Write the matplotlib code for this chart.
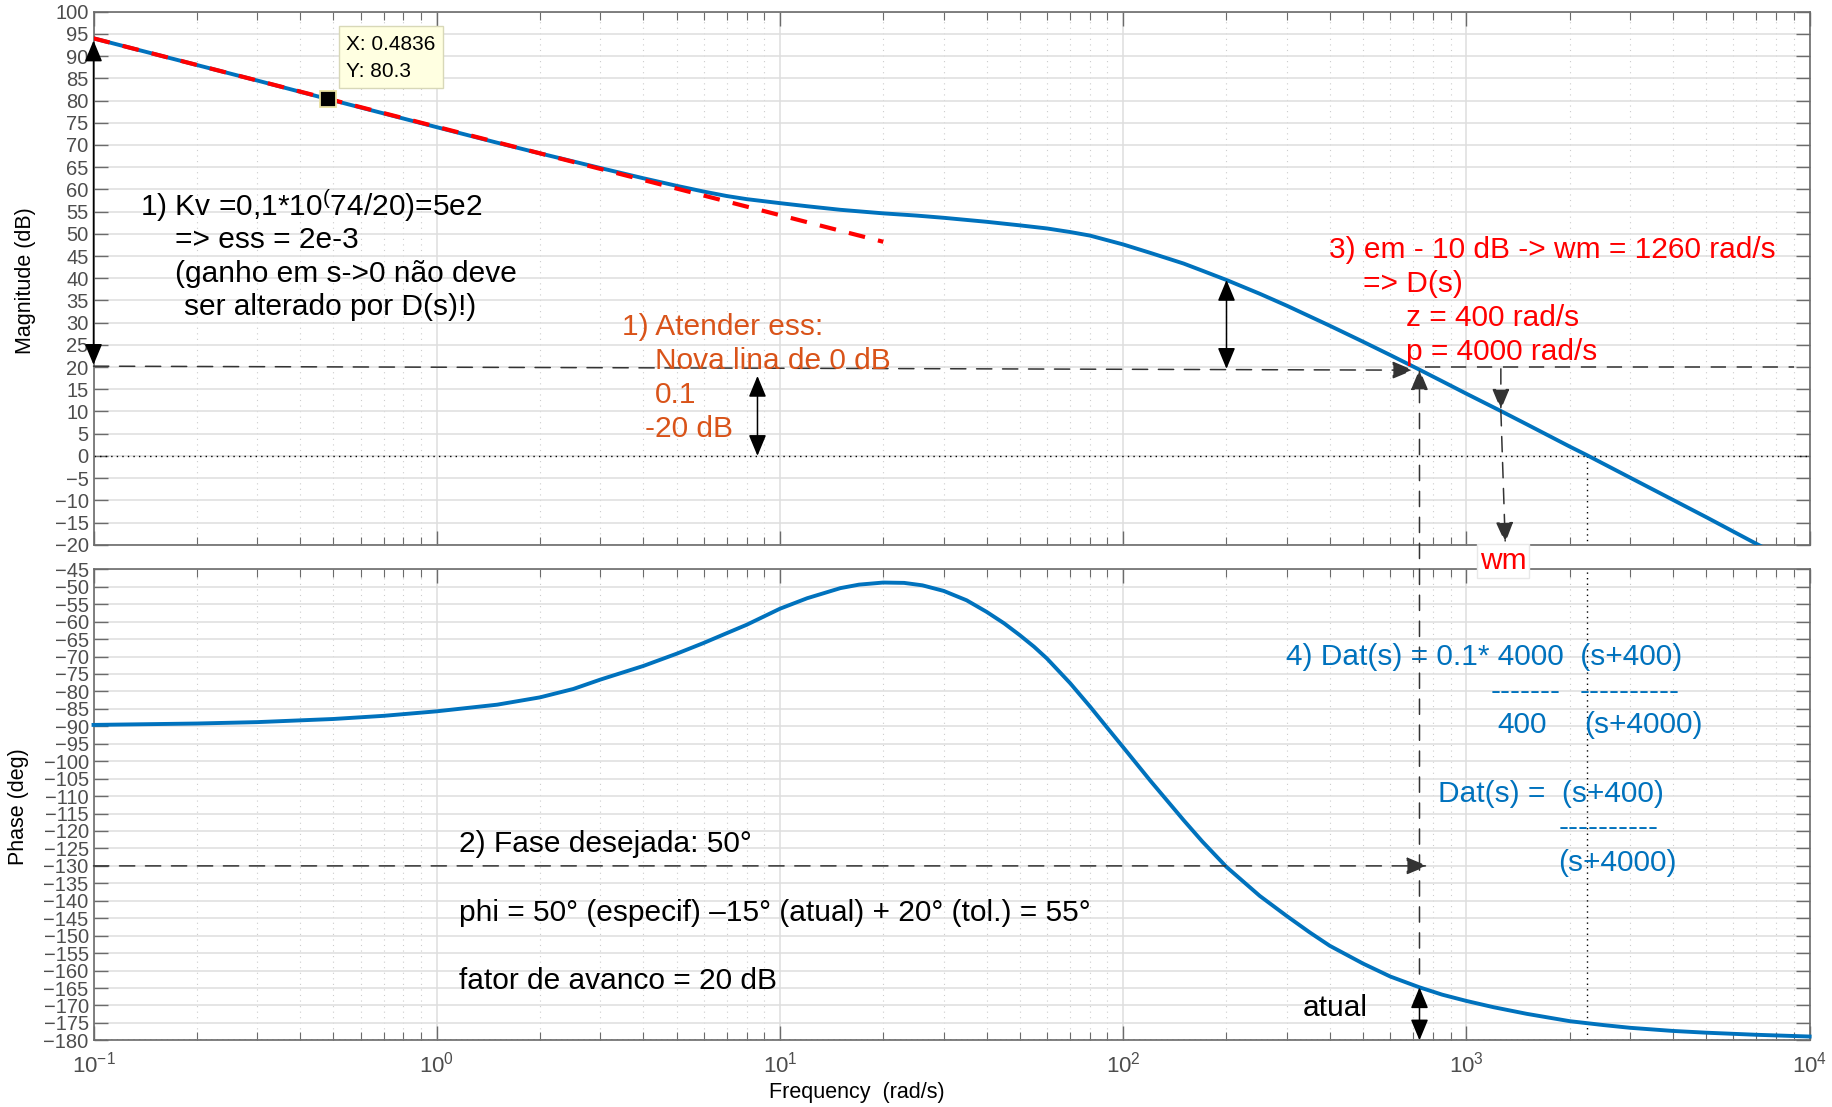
import numpy as np
import matplotlib
matplotlib.use('Agg')
import matplotlib.pyplot as plt
from matplotlib.patches import ConnectionPatch, Rectangle
from matplotlib.ticker import LogLocator, NullFormatter

plt.rcParams['font.family'] = ['Liberation Sans', 'DejaVu Sans']
plt.rcParams['mathtext.fontset'] = 'custom'
plt.rcParams['mathtext.rm'] = 'Liberation Sans'
plt.rcParams['mathtext.it'] = 'Liberation Sans:italic'
plt.rcParams['mathtext.default'] = 'regular'

# Bode data
freq_mag = [0.1, 0.2, 0.3, 0.4836, 0.7, 1, 1.5, 2, 3, 4, 5, 6, 7, 8, 10, 12, 15,
            20, 25, 30, 40, 50, 60, 70, 80, 100, 120, 150, 170, 200, 250, 300,
            400, 500, 600, 730, 850, 1000, 1260, 1500, 2000, 2240, 3000, 5000,
            7000, 10000]
mag_db = [94, 88, 84.5, 80.3, 77.1, 74.0, 70.5, 68.1, 64.8, 62.5, 60.8, 59.5,
          58.5, 57.8, 56.9, 56.2, 55.4, 54.6, 54.1, 53.6, 52.7, 51.9, 51.2, 50.4,
          49.6, 47.6, 45.7, 43.3, 41.7, 39.6, 36.5, 33.8, 29.3, 25.7, 22.7, 19.4,
          16.8, 14.0, 10.1, 7.1, 2.1, 0.2, -4.9, -13.8, -19.8, -26.0]

freq_phase = [0.1, 0.2, 0.3, 0.5, 0.7, 1, 1.5, 2, 2.5, 3, 4, 5, 6, 7, 8, 10, 12,
              15, 17, 20, 23, 26, 30, 35, 40, 45, 50, 55, 60, 70, 80, 90, 100,
              120, 150, 170, 200, 250, 300, 350, 400, 500, 600, 730, 850, 1000,
              1200, 1500, 2000, 2500, 3000, 4000, 5000, 7000, 10000]
phase_deg = [-89.6, -89.2, -88.8, -87.9, -87.0, -85.7, -83.8, -81.7, -79.3,
             -76.6, -72.7, -69.2, -66.1, -63.3, -60.9, -56.3, -53.3, -50.4,
             -49.4, -48.8, -48.9, -49.6, -51.2, -53.9, -57.2, -60.5, -63.9,
             -67.2, -70.6, -77.6, -84.3, -90.5, -96.0, -105.6, -116.9, -123.0,
             -130.3, -138.6, -144.4, -149.1, -152.9, -158.0, -161.7, -164.8,
             -166.9, -168.7, -170.5, -172.4, -174.5, -175.6, -176.4, -177.3,
             -177.8, -178.4, -178.9]

# -20 dB/dec low frequency asymptote
asym_freq = [0.1, 20]
asym_db = [94, 48.2]

tip_x, tip_y = 0.4836, 80.3
w_20db = 730     # |G| = 20 dB
w_m = 1260       # new crossover
w_c = 2240       # 0 dB crossover
phase_target = -130

mag_ticks = list(range(-20, 101, 5))
phase_ticks = list(range(-180, -44, 5))

W, H = 1568, 947  # layout reference units


def fpos(x, y):
    return x / W, 1 - y / H


fig = plt.figure(figsize=(18.33, 11.07), dpi=100)
ax1 = fig.add_axes([80 / W, 1 - 466 / H, 1468 / W, 456 / H])
ax2 = fig.add_axes([80 / W, 1 - 890 / H, 1468 / W, 403 / H])


def style(ax, ticks, lims):
    ax.set_xscale('log')
    ax.set_xlim(0.1, 1e4)
    ax.set_ylim(lims)
    ax.set_yticks(ticks)
    ax.xaxis.set_major_locator(LogLocator(base=10, numticks=10))
    ax.xaxis.set_minor_locator(LogLocator(base=10, subs=np.arange(2, 10), numticks=20))
    ax.xaxis.set_minor_formatter(NullFormatter())
    ax.tick_params(which='both', direction='in', top=True, right=True,
                   colors='#6b6b6b', labelcolor='#4d4d4d', labelsize=14.5)
    ax.tick_params(axis='x', labelsize=16)
    ax.tick_params(which='major', length=10, width=1)
    ax.tick_params(which='minor', length=6, width=0.8)
    ax.grid(which='major', color='#dedede', lw=1.1)
    ax.grid(which='minor', axis='x', color='#cccccc', lw=0.8, ls=(0, (1, 4)))
    for s in ax.spines.values():
        s.set_color('#6b6b6b')
        s.set_linewidth(1.2)
    ax.set_axisbelow(True)


style(ax1, mag_ticks, (-20, 100))
style(ax2, phase_ticks, (-180, -45))
ax1.tick_params(labelbottom=False)
ax2.tick_params(axis='x', pad=8)

blue = '#0072BD'
dot = (0, (1, 3))
dash = (0, (10, 7))

ax1.plot(freq_mag, mag_db, color=blue, lw=2.8, zorder=3)
ax1.plot(asym_freq, asym_db, color='#FF0000', lw=3, dashes=(4, 3.2), zorder=4)
ax1.plot([tip_x], [tip_y], marker='s', ms=12, mfc='k', mec='#E8E0A0', mew=1.3, zorder=6)
ax1.axhline(0, color='k', lw=1, ls=dot)
ax1.plot([w_c, w_c], [0, -20], color='k', lw=1, ls=dot)

ax2.plot(freq_phase, phase_deg, color=blue, lw=2.8, zorder=3, clip_on=False)
ax2.axvline(w_c, color='k', lw=1, ls=dot)
ax2.axhline(-180, color='k', lw=1, ls=dot)

head = ',head_length=0.65,head_width=0.27'


def arrow(ax, start, end, style='<|-|>', ls='-', color='k', lw=1.1):
    ax.annotate('', xy=end, xytext=start, xycoords='data', annotation_clip=False,
                arrowprops=dict(arrowstyle=style + head,
                                color=color, lw=lw, ls=ls, mutation_scale=20,
                                shrinkA=0, shrinkB=0), zorder=7)


# magnitude plot arrows
arrow(ax1, (0.1, 93.5), (0.1, 20.5))
arrow(ax1, (0.1, 20.2), (w_20db * 0.96, 19.3), style='-|>', ls=dash, color='#333333')
ax1.plot([w_20db * 1.04, 9000], [20, 20], color='#333333', lw=1.1, ls=dash)
arrow(ax1, (200, 39.6), (200, 19.6))
arrow(ax1, (8.6, 18.0), (8.6, 0))
arrow(ax1, (w_m, 19.6), (w_m, 10.4), style='-|>', ls=dash, color='#333333')
arrow(ax1, (w_m, 10.2), (w_m * 1.03, -19.6), style='-|>', ls=dash, color='#333333')

# phase plot arrows
arrow(ax2, (0.1, phase_target), (770, phase_target), style='-|>', ls=dash, color='#333333')
arrow(ax2, (w_20db, -164.8), (w_20db, -180))
con = ConnectionPatch(xyA=(w_20db, -161), coordsA=ax2.transData,
                      xyB=(w_20db, 19.5), coordsB=ax1.transData,
                      arrowstyle='-|>' + head,
                      mutation_scale=20, color='#333333', lw=1.1, ls=dash,
                      shrinkA=0, shrinkB=0, zorder=7)
fig.add_artist(con)

# data tip
fig.add_artist(Rectangle(fpos(290, 75), 89 / W, 53 / H, transform=fig.transFigure,
                         facecolor='#FFFFE1', edgecolor='#D8D8B8', lw=1, zorder=8))
fig.text(*fpos(296, 38), 'X: 0.4836', fontsize=15, va='center', zorder=9)
fig.text(*fpos(296, 61), 'Y: 80.3', fontsize=15, va='center', zorder=9)

orange = '#D95319'
red = '#FF0000'
notes = [
    (120, 176, r'1) Kv =0,1*10$^{(}$74/20)=5e2', 'k'),
    (150, 205, '=> ess = 2e-3', 'k'),
    (150, 234, '(ganho em s->0 não deve', 'k'),
    (157, 263, 'ser alterado por D(s)!)', 'k'),
    (532, 280, '1) Atender ess:', orange),
    (560, 309, 'Nova lina de 0 dB', orange),
    (560, 338, '0.1', orange),
    (552, 367, '-20 dB', orange),
    (1137, 214, '3) em - 10 dB -> wm = 1260 rad/s', red),
    (1166, 243, '=> D(s)', red),
    (1203, 272, 'z = 400 rad/s', red),
    (1203, 301, 'p = 4000 rad/s', red),
    (1100, 562, '4) Dat(s) = 0.1* 4000  (s+400)', blue),
    (1275, 592, '-------', blue),
    (1351, 592, '----------', blue),
    (1281, 620, '400', blue),
    (1355, 620, '(s+4000)', blue),
    (1230, 679, 'Dat(s) =  (s+400)', blue),
    (1333, 708, '----------', blue),
    (1333, 738, '(s+4000)', blue),
    (393, 722, '2) Fase desejada: 50°', 'k'),
    (393, 781, 'phi = 50° (especif) –15° (atual) + 20° (tol.) = 55°', 'k'),
    (393, 839, 'fator de avanco = 20 dB', 'k'),
    (1114, 862, 'atual', 'k'),
]
for x, y, s, c in notes:
    fig.text(*fpos(x, y), s, color=c, fontsize=21.5, va='center', ha='left', zorder=9)

fig.text(*fpos(1266, 480), 'wm', color=red, fontsize=21.5, va='center', ha='left', zorder=9,
         bbox=dict(facecolor='white', edgecolor='#e8e8e8', pad=2))

fig.text(*fpos(22, 240), 'Magnitude (dB)', rotation=90, fontsize=15.5,
         ha='center', va='center')
fig.text(*fpos(16, 690), 'Phase (deg)', rotation=90, fontsize=15.5,
         ha='center', va='center')
fig.text(*fpos(733, 935), 'Frequency  (rad/s)', fontsize=15.5, ha='center', va='center')

fig.savefig('out.png', dpi=100)
